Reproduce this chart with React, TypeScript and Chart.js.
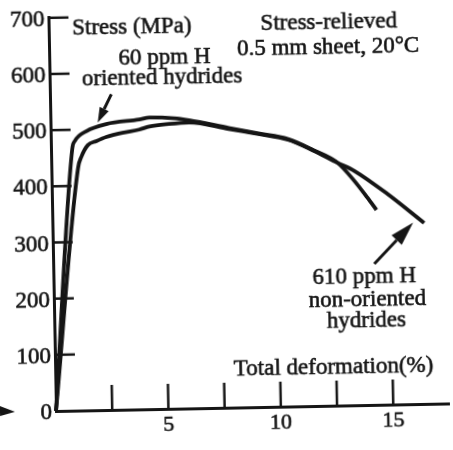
import React, { useEffect, useRef } from 'react';
import { Chart, registerables } from 'chart.js';

Chart.register(...registerables);

// ---- Data (total deformation %, stress MPa) ----
const seriesNames = ['60 ppm H, oriented hydrides', '610 ppm H, non-oriented hydrides'];

const strain60 = [0, 0.95, 1.07, 1.59, 2.48, 3.95, 4.4, 5.5, 6.16, 7.92, 9.24, 10.55, 11.65, 12.74, 13.47, 14.03, 14.42];
const stress60 = [0, 467, 480, 497, 509, 516, 519, 517, 513, 498, 487, 476, 456, 432, 399, 369, 347];

const strain610 = [0, 1.19, 1.35, 1.64, 2.02, 2.47, 3.19, 3.94, 4.39, 5.27, 6.16, 7.92, 9.24, 10.55, 11.65, 12.74, 13.48, 14.92, 16.53];
const stress610 = [0, 432, 452, 472, 479, 486, 493, 498, 503, 507, 509, 496, 486, 475, 455, 432, 417, 375, 322];

const xTickLabels = ['5', '10', '15'];
const yMax = 700;
const yStep = 100;
const xMax = 17.5;
const xStep = 2.5;

// ---- Annotations (positions in data units) ----
const annotations = [
  { text: 'Stress (MPa)', x: 3.7, y: 669 },
  { text: '60 ppm H', x: 5.13, y: 615 },
  { text: 'oriented hydrides', x: 5.0, y: 578 },
  { text: 'Stress-relieved', x: 12.46, y: 671 },
  { text: '0.5 mm sheet, 20°C', x: 12.41, y: 627 },
  { text: '610 ppm H', x: 13.82, y: 217 },
  { text: 'non-oriented', x: 13.94, y: 177 },
  { text: 'hydrides', x: 13.88, y: 139 },
  { text: 'Total deformation(%)', x: 12.38, y: 57 },
];

const arrows = [
  { from: [2.73, 562], to: [2.1, 512], head: 15, half: 5 },
  { from: [14.28, 251], to: [16.04, 323], head: 24, half: 7 },
];

const INK = '#151515';
const FONT = '"Liberation Serif", "Times New Roman", serif';

const decor = {
  id: 'decor',
  afterDraw(chart: any) {
    const ctx: CanvasRenderingContext2D = chart.ctx;
    const xs = chart.scales.x;
    const ys = chart.scales.y;
    const { left, bottom } = chart.chartArea;
    ctx.save();
    ctx.strokeStyle = INK;
    ctx.fillStyle = INK;
    ctx.lineWidth = 2.5;
    // inward tick marks
    ys.ticks.forEach((t: any) => {
      if (t.value <= 0) return;
      const py = ys.getPixelForValue(t.value);
      ctx.beginPath();
      ctx.moveTo(left, py);
      ctx.lineTo(left + 20, py);
      ctx.stroke();
    });
    xs.ticks.forEach((t: any) => {
      if (t.value <= 0 || t.value > 15.01) return;
      const px = xs.getPixelForValue(t.value);
      ctx.beginPath();
      ctx.moveTo(px, bottom);
      ctx.lineTo(px, bottom - 25);
      ctx.stroke();
    });
    // texts
    ctx.font = `23px ${FONT}`;
    ctx.textAlign = 'center';
    ctx.textBaseline = 'alphabetic';
    ctx.lineWidth = 0.6;
    annotations.forEach((a) => {
      const px = xs.getPixelForValue(a.x);
      const py = ys.getPixelForValue(a.y);
      ctx.fillText(a.text, px, py);
      ctx.strokeText(a.text, px, py);
    });
    // arrows
    arrows.forEach((a) => {
      const x1 = xs.getPixelForValue(a.from[0]);
      const y1 = ys.getPixelForValue(a.from[1]);
      const x2 = xs.getPixelForValue(a.to[0]);
      const y2 = ys.getPixelForValue(a.to[1]);
      const ang = Math.atan2(y2 - y1, x2 - x1);
      const bx = x2 - a.head * Math.cos(ang);
      const by = y2 - a.head * Math.sin(ang);
      ctx.lineWidth = 3;
      ctx.beginPath();
      ctx.moveTo(x1, y1);
      ctx.lineTo(bx, by);
      ctx.stroke();
      ctx.beginPath();
      ctx.moveTo(x2, y2);
      ctx.lineTo(bx + a.half * Math.sin(ang), by - a.half * Math.cos(ang));
      ctx.lineTo(bx - a.half * Math.sin(ang), by + a.half * Math.cos(ang));
      ctx.closePath();
      ctx.fill();
    });
    // small pointer at the left of the origin
    ctx.beginPath();
    ctx.moveTo(0, bottom - 6);
    ctx.lineTo(left - 41, bottom);
    ctx.lineTo(0, bottom + 4);
    ctx.closePath();
    ctx.fill();
    ctx.restore();
  },
};

export default function App() {
  const ref = useRef<HTMLCanvasElement | null>(null);

  useEffect(() => {
    if (!ref.current) return;
    const chart = new Chart(ref.current, {
      type: 'line',
      data: {
        datasets: [
          {
            label: seriesNames[0],
            data: strain60.map((x, i) => ({ x, y: stress60[i] })),
            borderColor: INK,
            borderWidth: 3.8,
            pointRadius: 0,
            cubicInterpolationMode: 'monotone',
            fill: false,
            clip: false as any,
          },
          {
            label: seriesNames[1],
            data: strain610.map((x, i) => ({ x, y: stress610[i] })),
            borderColor: INK,
            borderWidth: 3.8,
            pointRadius: 0,
            cubicInterpolationMode: 'monotone',
            fill: false,
            clip: false as any,
          },
        ],
      },
      options: {
        animation: false,
        responsive: false,
        maintainAspectRatio: false,
        layout: { padding: { top: 16, right: 0, left: 0, bottom: 0 } },
        plugins: { legend: { display: false }, tooltip: { enabled: false } },
        scales: {
          x: {
            type: 'linear',
            min: 0,
            max: xMax,
            ticks: {
              stepSize: xStep,
              autoSkip: false,
              maxRotation: 0,
              padding: 3.5,
              color: INK,
              textStrokeColor: INK,
              textStrokeWidth: 0.6,
              font: { family: FONT, size: 22 },
              callback: (v: any) => {
                const l = xTickLabels.find((s) => Math.abs(Number(s) - Number(v)) < 1e-6);
                return l ?? '';
              },
            },
            grid: { display: false, drawTicks: false, tickLength: 0 },
            border: { display: true, width: 3, color: INK },
            afterFit: (s: any) => {
              s.height = 39;
            },
          },
          y: {
            type: 'linear',
            min: 0,
            max: yMax,
            ticks: {
              stepSize: yStep,
              padding: 4,
              labelOffset: 2,
              color: INK,
              textStrokeColor: INK,
              textStrokeWidth: 0.6,
              font: { family: FONT, size: 23 },
            },
            grid: { display: false, drawTicks: false, tickLength: 0 },
            border: { display: true, width: 3, color: INK },
            afterFit: (s: any) => {
              s.width = 56;
            },
          },
        },
      },
      plugins: [decor],
    });
    return () => chart.destroy();
  }, []);

  return (
    <div style={{ position: 'fixed', left: 0, top: 0, width: 453, height: 450, background: '#fff', overflow: 'hidden' }}>
      <canvas
        ref={ref}
        width={453}
        height={450}
        style={{ display: 'block', width: 453, height: 450, transform: 'rotate(-1.1deg)', transformOrigin: '56px 411px' }}
      />
    </div>
  );
}
